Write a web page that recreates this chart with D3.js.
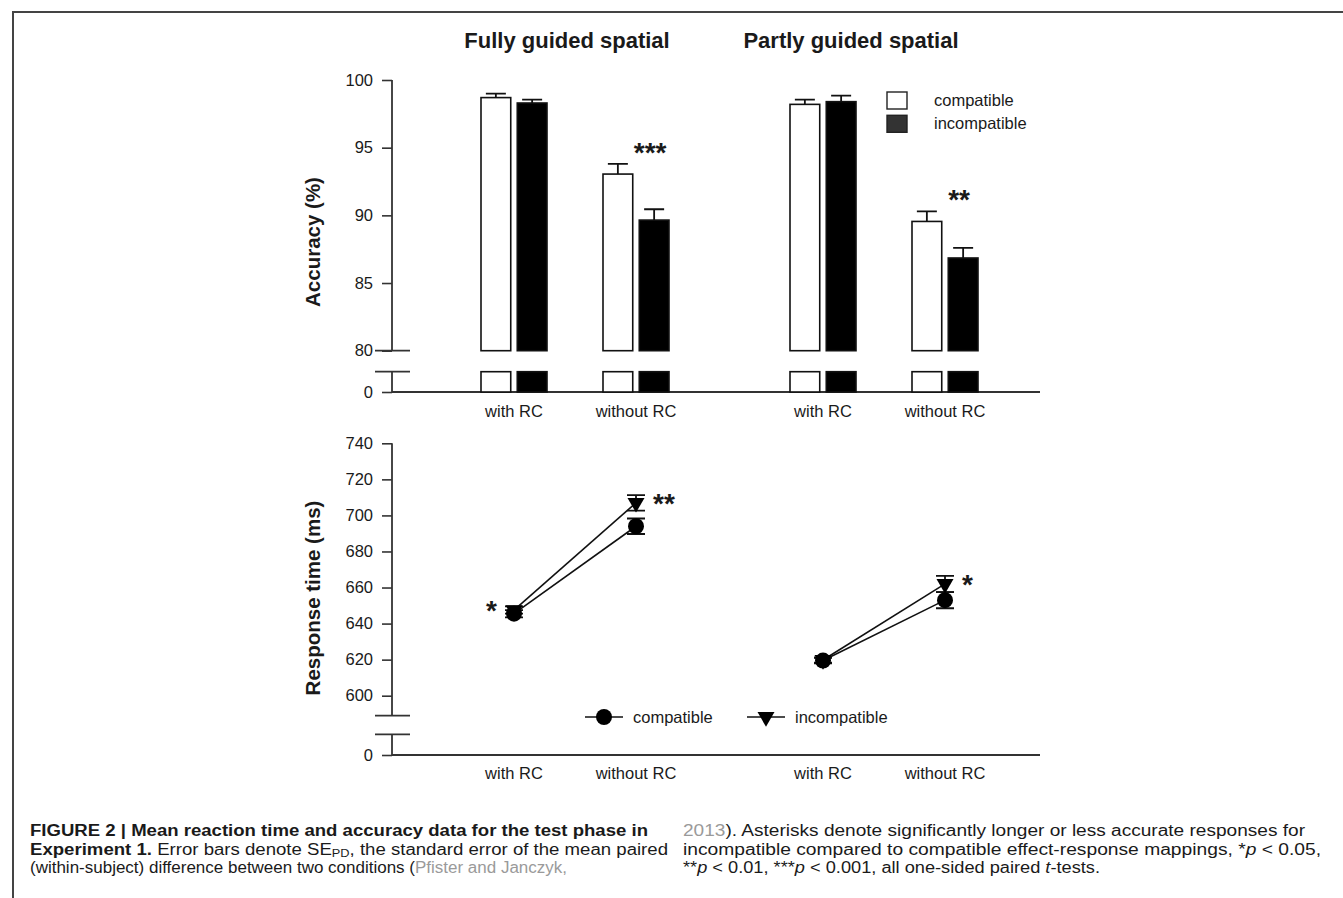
<!DOCTYPE html>
<html>
<head>
<meta charset="utf-8">
<script src="https://cdn.jsdelivr.net/npm/d3@7"></script>
<style>
  body { margin: 0; background: #fff; }
  text { font-family: "Liberation Sans", Arial, sans-serif; fill: #1a1a1a; }
  .cap text { font-family: "Liberation Sans Narrow", "Liberation Sans", Arial, sans-serif; }
</style>
</head>
<body>
<script>
// ---- data ----
let panels = ["Fully guided spatial", "Partly guided spatial"];
let conditions = ["with RC", "without RC"];
let mappings = ["compatible", "incompatible"];

// order: fully/with, fully/without, partly/with, partly/without
let accCompatible = [98.7, 93.05, 98.2, 89.55];
let accIncompatible = [98.3, 89.65, 98.4, 86.85];
let accSeCompatible = [0.3, 0.75, 0.35, 0.75];
let accSeIncompatible = [0.25, 0.8, 0.45, 0.75];
let accStars = ["", "***", "", "**"];
let accTicks = [80, 85, 90, 95, 100];

let rtCompatible = [645.5, 694, 619.5, 653];
let rtIncompatible = [647.5, 707, 619.8, 662];
let rtSeCompatible = [2, 4.3, 1.5, 4.5];
let rtSeIncompatible = [2, 4.3, 1.5, 4.5];
let rtStars = ["*", "**", "", "*"];
let rtTicks = [600, 620, 640, 660, 680, 700, 720, 740];

let width = 1343, height = 898;
let svg = d3.select("body").append("svg")
    .attr("width", width).attr("height", height);

// frame
svg.append("path")
    .attr("d", "M13," + height + "V12H" + width)
    .attr("fill", "none").attr("stroke", "#444").attr("stroke-width", 2);

// x scales
let xPanel = d3.scalePoint().domain(panels).range([575, 884]);
let xCond = d3.scalePoint().domain(conditions).range([-61, 61]);
let xMap = d3.scaleBand().domain(mappings).range([-33, 33]).paddingInner(0.18);
let cells = [];
panels.forEach(function (p, i) {
    conditions.forEach(function (c, j) {
        cells.push({panel: p, cond: c, k: i * 2 + j, x: xPanel(p) + xCond(c)});
    });
});

let axisX0 = 392, axisX1 = 1040;
let titleDx = [-8, -33];

// panel titles
svg.selectAll(".title").data(panels).enter().append("text")
    .attr("x", function (d, i) { return xPanel(d) + titleDx[i]; })
    .attr("y", 48)
    .attr("text-anchor", "middle")
    .style("font-size", "22px").style("font-weight", "bold")
    .text(function (d) { return d; });

// ================= accuracy chart =================
let yAcc = d3.scaleLinear().domain([80, 100]).range([350.7, 80]);
let yAccLow = d3.scaleLinear().domain([0, 80]).range([392, 371.7]);

let topG = svg.append("g");
let accAxis = topG.append("g").attr("transform", "translate(" + axisX0 + ",0)")
    .call(d3.axisLeft(yAcc).tickValues(accTicks).tickSize(10).tickPadding(9));
accAxis.append("g").call(d3.axisLeft(yAccLow).tickValues([0]).tickSize(10).tickPadding(9));
accAxis.selectAll(".domain").remove();
accAxis.selectAll("text").style("font-size", "16.5px").style("fill", "#1a1a1a");
accAxis.selectAll("line").attr("stroke", "#333").attr("stroke-width", 1.6);
accAxis.attr("font-family", null).attr("font-size", null);

let axisStroke = {"stroke": "#333", "stroke-width": 1.8, "fill": "none"};
function styled(sel) { Object.keys(axisStroke).forEach(function (k) { sel.attr(k, axisStroke[k]); }); return sel; }

styled(topG.append("line")).attr("x1", axisX0).attr("x2", axisX0).attr("y1", yAcc(100)).attr("y2", yAcc(80));
styled(topG.append("line")).attr("x1", axisX0 - 17).attr("x2", axisX0 + 18).attr("y1", yAcc(80)).attr("y2", yAcc(80));
styled(topG.append("line")).attr("x1", axisX0 - 17).attr("x2", axisX0 + 18).attr("y1", yAccLow(80)).attr("y2", yAccLow(80));
styled(topG.append("line")).attr("x1", axisX0).attr("x2", axisX0).attr("y1", yAccLow(80)).attr("y2", yAccLow(0));
styled(topG.append("line")).attr("x1", axisX0).attr("x2", axisX1).attr("y1", yAccLow(0)).attr("y2", yAccLow(0));

let accVals = {compatible: [accCompatible, accSeCompatible], incompatible: [accIncompatible, accSeIncompatible]};
let bars = [];
cells.forEach(function (c) {
    mappings.forEach(function (m) {
        bars.push({m: m, v: accVals[m][0][c.k], se: accVals[m][1][c.k], x: c.x + xMap(m)});
    });
});
let bw = xMap.bandwidth();
let barG = topG.selectAll(".bar").data(bars).enter().append("g");
barG.append("rect")
    .attr("x", function (d) { return d.x; })
    .attr("y", function (d) { return yAcc(d.v); })
    .attr("width", bw)
    .attr("height", function (d) { return yAcc(80) - yAcc(d.v); })
    .attr("fill", function (d) { return d.m === "compatible" ? "#fff" : "#000"; })
    .attr("stroke", "#111").attr("stroke-width", 1.6);
barG.append("rect")
    .attr("x", function (d) { return d.x; })
    .attr("y", yAccLow(80))
    .attr("width", bw)
    .attr("height", yAccLow(0) - yAccLow(80))
    .attr("fill", function (d) { return d.m === "compatible" ? "#fff" : "#000"; })
    .attr("stroke", "#111").attr("stroke-width", 1.6);
barG.append("path")
    .attr("d", function (d) {
        let cx = d.x + bw / 2, y0 = yAcc(d.v), y1 = yAcc(d.v + d.se);
        return "M" + cx + "," + y0 + "V" + y1 + "M" + (cx - 10) + "," + y1 + "H" + (cx + 10);
    })
    .attr("stroke", "#111").attr("stroke-width", 1.8).attr("fill", "none");

topG.selectAll(".accstar").data(cells).enter().append("text")
    .attr("x", function (d) { return d.x + xMap("incompatible") + bw / 2 - 4; })
    .attr("y", function (d) { return yAcc(accCompatible[d.k] + accSeCompatible[d.k]) - 2; })
    .attr("text-anchor", "middle")
    .style("font-size", "28px").style("font-weight", "bold")
    .text(function (d) { return accStars[d.k]; });

topG.selectAll(".xlab").data(cells).enter().append("text")
    .attr("x", function (d) { return d.x; }).attr("y", 417)
    .attr("text-anchor", "middle").style("font-size", "16.5px")
    .text(function (d) { return d.cond; });

topG.append("text")
    .attr("transform", "translate(320," + ((yAcc(100) + yAccLow(0)) / 2 + 6) + ") rotate(-90)")
    .attr("text-anchor", "middle").style("font-size", "20.5px").style("font-weight", "bold")
    .text("Accuracy (%)");

// legend (bars)
let legTop = topG.selectAll(".leg").data(mappings).enter().append("g")
    .attr("transform", function (d, i) { return "translate(887," + (92 + i * 23.3) + ")"; });
legTop.append("rect").attr("width", 20).attr("height", 17)
    .attr("fill", function (d) { return d === "compatible" ? "#fff" : "#333"; })
    .attr("stroke", "#222").attr("stroke-width", 1.4);
legTop.append("text").attr("x", 47).attr("y", 14).style("font-size", "16.5px").text(function (d) { return d; });

// ================= response time chart =================
let yRt = d3.scaleLinear().domain([600, 740]).range([695.7, 443.3]);
let yRtLow = d3.scaleLinear().domain([0, 600]).range([755, 734.3]);

let botG = svg.append("g");
let rtAxis = botG.append("g").attr("transform", "translate(" + axisX0 + ",0)")
    .call(d3.axisLeft(yRt).tickValues(rtTicks).tickSize(10).tickPadding(9));
rtAxis.append("g").call(d3.axisLeft(yRtLow).tickValues([0]).tickSize(10).tickPadding(9));
rtAxis.selectAll(".domain").remove();
rtAxis.selectAll("text").style("font-size", "16.5px").style("fill", "#1a1a1a");
rtAxis.selectAll("line").attr("stroke", "#333").attr("stroke-width", 1.6);
rtAxis.attr("font-family", null).attr("font-size", null);

let breakTop = yRt(589);
styled(botG.append("line")).attr("x1", axisX0).attr("x2", axisX0).attr("y1", yRt(740)).attr("y2", breakTop);
styled(botG.append("line")).attr("x1", axisX0 - 17).attr("x2", axisX0 + 18).attr("y1", breakTop).attr("y2", breakTop);
styled(botG.append("line")).attr("x1", axisX0 - 17).attr("x2", axisX0 + 18).attr("y1", yRtLow(600)).attr("y2", yRtLow(600));
styled(botG.append("line")).attr("x1", axisX0).attr("x2", axisX0).attr("y1", yRtLow(600)).attr("y2", yRtLow(0));
styled(botG.append("line")).attr("x1", axisX0).attr("x2", axisX1).attr("y1", yRtLow(0)).attr("y2", yRtLow(0));

let rtVals = {compatible: [rtCompatible, rtSeCompatible], incompatible: [rtIncompatible, rtSeIncompatible]};
let triangle = d3.symbol().type(d3.symbolTriangle).size(125);

// connecting lines
panels.forEach(function (p, i) {
    mappings.forEach(function (m) {
        let linePts = conditions.map(function (c, j) { return [xPanel(p) + xCond(c), yRt(rtVals[m][0][i * 2 + j])]; });
        botG.append("path").attr("d", d3.line()(linePts))
            .attr("stroke", "#111").attr("stroke-width", 1.6).attr("fill", "none");
    });
});

let pts = [];
cells.forEach(function (c) {
    mappings.forEach(function (m) {
        pts.push({m: m, x: c.x, v: rtVals[m][0][c.k], se: rtVals[m][1][c.k]});
    });
});
botG.selectAll(".err").data(pts).enter().append("path")
    .attr("d", function (d) {
        let y0 = yRt(d.v - d.se), y1 = yRt(d.v + d.se);
        return "M" + d.x + "," + y0 + "V" + y1 +
            "M" + (d.x - 9) + "," + y0 + "H" + (d.x + 9) +
            "M" + (d.x - 9) + "," + y1 + "H" + (d.x + 9);
    })
    .attr("stroke", "#111").attr("stroke-width", 1.8).attr("fill", "none");

function marker(sel, m) {
    if (m === "compatible") return sel.append("circle").attr("r", 8).attr("fill", "#000");
    return sel.append("path").attr("d", triangle).attr("fill", "#000");
}
pts.forEach(function (d) {
    let g = botG.append("g").attr("transform", "translate(" + d.x + "," + yRt(d.v) + ")" + (d.m === "incompatible" ? " rotate(180)" : ""));
    marker(g, d.m);
});

let rtStarSide = [-1, 1, 0, 1];
botG.selectAll(".rtstar").data(cells).enter().append("text")
    .attr("x", function (d) { return d.x + rtStarSide[d.k] * 17; })
    .attr("y", function (d) { return yRt(rtIncompatible[d.k]) + 10; })
    .attr("text-anchor", function (d) { return rtStarSide[d.k] < 0 ? "end" : "start"; })
    .style("font-size", "28px").style("font-weight", "bold")
    .text(function (d) { return rtStars[d.k]; });

botG.selectAll(".xlab").data(cells).enter().append("text")
    .attr("x", function (d) { return d.x; }).attr("y", 779)
    .attr("text-anchor", "middle").style("font-size", "16.5px")
    .text(function (d) { return d.cond; });

botG.append("text")
    .attr("transform", "translate(320," + 598 + ") rotate(-90)")
    .attr("text-anchor", "middle").style("font-size", "20.5px").style("font-weight", "bold")
    .text("Response time (ms)");

// legend (lines)
let legX = [604, 766];
let legBot = botG.selectAll(".leg2").data(mappings).enter().append("g")
    .attr("transform", function (d, i) { return "translate(" + legX[i] + ",717)"; });
legBot.append("line").attr("x1", -19).attr("x2", 19).attr("stroke", "#111").attr("stroke-width", 1.6);
legBot.each(function (d) {
    let g = d3.select(this).append("g").attr("transform", d === "incompatible" ? "rotate(180)" : null);
    marker(g, d);
});
legBot.append("text").attr("x", 29).attr("y", 6).style("font-size", "16.5px").text(function (d) { return d; });

// ================= caption =================
let cap = svg.append("g").attr("class", "cap").style("font-size", "16px");
let grey = "#9a9a9a";
let capLines = [
    {x: 30, y: 836, w: 618, parts: [{t: "FIGURE 2 | Mean reaction time and accuracy data for the test phase in", b: 1}]},
    {x: 30, y: 854.5, w: 638, parts: [{t: "Experiment 1.", b: 1}, {t: " Error bars denote SE"}, {t: "PD", sub: 1}, {t: ", the standard error of the mean paired"}]},
    {x: 30, y: 873, w: 537, parts: [{t: "(within-subject) difference between two conditions ("}, {t: "Pfister and Janczyk,", c: grey}]},
    {x: 683, y: 836, w: 622, parts: [{t: "2013", c: grey}, {t: "). Asterisks denote significantly longer or less accurate responses for"}]},
    {x: 683, y: 854.5, w: 638, parts: [{t: "incompatible compared to compatible effect-response mappings, *"}, {t: "p", i: 1}, {t: " < 0.05,"}]},
    {x: 683, y: 873, w: 417, parts: [{t: "**"}, {t: "p", i: 1}, {t: " < 0.01, ***"}, {t: "p", i: 1}, {t: " < 0.001, all one-sided paired "}, {t: "t", i: 1}, {t: "-tests."}]}
];
capLines.forEach(function (l) {
    let t = cap.append("text").attr("x", l.x).attr("y", l.y)
        .attr("textLength", l.w).attr("lengthAdjust", "spacingAndGlyphs");
    l.parts.forEach(function (p, i) {
        let s = t.append("tspan").text(p.t);
        if (p.b) s.style("font-weight", "bold");
        if (p.i) s.style("font-style", "italic");
        if (p.c) s.style("fill", p.c);
        if (p.sub) s.attr("dy", 2).style("font-size", "11px");
        if (i > 0 && l.parts[i - 1].sub) s.attr("dy", -2);
    });
});
</script>
</body>
</html>
